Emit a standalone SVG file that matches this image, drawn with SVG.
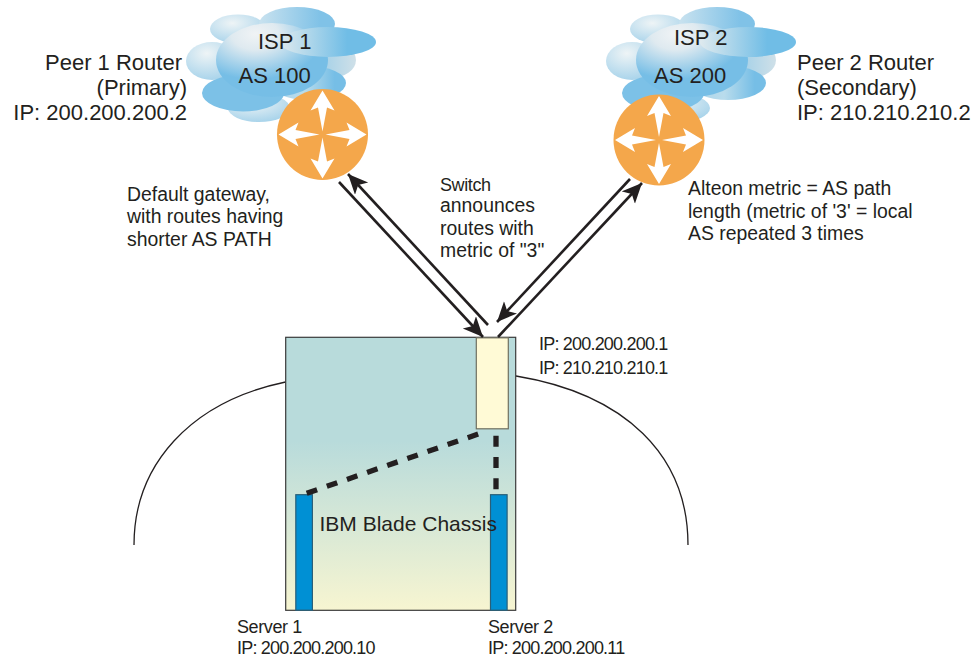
<svg xmlns="http://www.w3.org/2000/svg" width="980" height="658" viewBox="0 0 980 658">
<style>
text{font-family:"Liberation Sans",Arial,sans-serif;fill:#231f20}
.lg{font-size:22px}
.md{font-size:19.4px}
.sm{font-size:18px;letter-spacing:-.8px}
.srvname{font-size:18px;letter-spacing:-.4px}
.end{text-anchor:end}
.c{stroke:#231f20;stroke-width:2.6;fill:none}
.arc{stroke:#231f20;stroke-width:1.3;fill:none}
.dash{stroke:#231f20;stroke-width:5.3;fill:none;stroke-dasharray:11 10.3}
.srv{fill:#0090d4;stroke:#2a5f78;stroke-width:1.2}
</style>
<defs>
<linearGradient id="chassisFill" x1="0" y1="0" x2="0" y2="1">
<stop offset="0" stop-color="#b8dbdb"/><stop offset=".38" stop-color="#b8dbdb"/><stop offset="1" stop-color="#f7f5d1"/>
</linearGradient>
<radialGradient id="puff" cx=".4" cy=".3" r=".75"><stop offset="0" stop-color="#eef4f6"/><stop offset="1" stop-color="#a5d2ea"/></radialGradient>
<linearGradient id="top" x1="0" y1="0" x2="1" y2="0"><stop offset="0" stop-color="#c9e2ef"/><stop offset=".8" stop-color="#80c2e7"/></linearGradient>
<linearGradient id="band" x1="0" y1="0" x2="1" y2="0"><stop offset="0" stop-color="#dfeaee"/><stop offset=".7" stop-color="#70bde6"/></linearGradient>
<linearGradient id="lobe" x1="0" y1="0" x2="1" y2="0"><stop offset="0" stop-color="#a9d4ea"/><stop offset=".45" stop-color="#b9dcec"/><stop offset=".85" stop-color="#76bee6"/></linearGradient>
<linearGradient id="mid" x1="0" y1="0" x2="1" y2="0"><stop offset="0" stop-color="#8ec9e8"/><stop offset="1" stop-color="#cfe0e8"/></linearGradient>
<radialGradient id="main" cx=".35" cy=".15" r=".85"><stop offset="0" stop-color="#f0f3f5"/><stop offset=".25" stop-color="#dfeaf0"/><stop offset=".72" stop-color="#76bee6"/></radialGradient>
<g id="cloud">
<ellipse cx="238" cy="29" rx="28" ry="14.5" fill="url(#puff)"/>
<ellipse cx="297" cy="24" rx="38" ry="17" fill="url(#top)"/>
<ellipse cx="212" cy="61" rx="26" ry="19" fill="url(#puff)"/>
<ellipse cx="330" cy="60" rx="26" ry="18" fill="url(#mid)"/>
<ellipse cx="259" cy="108" rx="31" ry="14" fill="url(#puff)"/>
<ellipse cx="308" cy="83" rx="38" ry="17" fill="url(#lobe)"/>
<ellipse cx="243" cy="93" rx="41" ry="18.500" fill="#7cc1e7"/>
<ellipse cx="272" cy="60" rx="56" ry="37" fill="url(#main)"/>
<ellipse cx="328" cy="42" rx="48" ry="15" fill="url(#band)"/>
</g>
<g id="router">
<circle r="45.5" fill="#f4a74b"/>
<path id="rarm" fill="#fff" d="M0-44 12-24 4.500-27 0-3-4.500-27-12-24Z"/>
<use href="#rarm" transform="rotate(90)"/>
<use href="#rarm" transform="rotate(180)"/>
<use href="#rarm" transform="rotate(270)"/>
</g>
<marker id="head" markerUnits="userSpaceOnUse" markerWidth="22" markerHeight="20" refX="20" refY="9" orient="auto">
<path d="M0 0 20 9 0 18 5 9Z" fill="#231f20"/>
</marker>
</defs>

<g id="isp1">
<use href="#cloud"/>
<text class="lg" x="258" y="49">ISP 1</text>
<text class="lg" x="238.500" y="83">AS 100</text>
</g>
<g id="isp2">
<use href="#cloud" x="420"/>
<text class="lg" x="674" y="45">ISP 2</text>
<text class="lg" x="654" y="83">AS 200</text>
</g>
<g id="router1"><use href="#router" x="322.5" y="134.5"/></g>
<g id="router2"><use href="#router" x="659" y="140"/></g>

<g id="arcs">
<path class="arc" d="M285.5 382C190 402 134 465 134 545"/>
<path class="arc" d="M516 376C625 394 688 455 688 545"/>
</g>

<g id="chassis">
<rect x="285.7" y="337.3" width="230" height="273" fill="url(#chassisFill)" stroke="#3a3a3a" stroke-width="1.2"/>
</g>
<g id="switch"><rect x="476.3" y="337.8" width="32" height="91" fill="#fffad6" stroke="#6f6f60" stroke-width="1.2"/></g>
<g id="server1"><rect class="srv" x="295.8" y="494.7" width="16.6" height="115.5"/></g>
<g id="server2"><rect class="srv" x="490.5" y="494.7" width="16.6" height="115.5"/></g>
<text class="lg" x="319.500" y="531" style="font-size:21px">IBM Blade Chassis</text>

<g id="connectors">
<path class="c" marker-end="url(#head)" d="M488 325 348 174"/>
<path class="c" marker-end="url(#head)" d="M339 182 483 337"/>
<path class="c" marker-end="url(#head)" d="M630 179 497 322"/>
<path class="c" marker-end="url(#head)" d="M498 337 642 183"/>
<path class="dash" d="M306.700 493.300 478.300 434"/>
<path class="dash" d="M496 435.700V490"/>
</g>

<g id="labels">
<text class="lg end" x="182" y="70">Peer 1 Router</text>
<text class="lg end" x="187" y="95">(Primary)</text>
<text class="lg end" x="187" y="120">IP: 200.200.200.2</text>
<text class="lg" x="797" y="70">Peer 2 Router</text>
<text class="lg" x="797" y="95">(Secondary)</text>
<text class="lg" x="797" y="120">IP: 210.210.210.2</text>
<text class="md" x="127" y="201">Default gateway,</text>
<text class="md" x="127" y="223">with routes having</text>
<text class="md" x="127" y="246">shorter AS PATH</text>
<text x="440" y="190.500" style="font-size:18px;letter-spacing:-.4px">Switch</text>
<text class="md" x="440" y="212">announces</text>
<text class="md" x="440" y="235">routes with</text>
<text class="md" x="440" y="257">metric of "3"</text>
<text class="md" x="688" y="195">Alteon metric = AS path</text>
<text class="md" x="688" y="218">length (metric of '3' = local</text>
<text class="md" x="688" y="240">AS repeated 3 times</text>
<text class="sm" x="539" y="350">IP: 200.200.200.1</text>
<text class="sm" x="539" y="374">IP: 210.210.210.1</text>
<text class="srvname" x="237" y="633">Server 1</text>
<text class="sm" x="237" y="654">IP: 200.200.200.10</text>
<text class="srvname" x="488" y="633">Server 2</text>
<text class="sm" x="488" y="654">IP: 200.200.200.11</text>
</g>
</svg>
